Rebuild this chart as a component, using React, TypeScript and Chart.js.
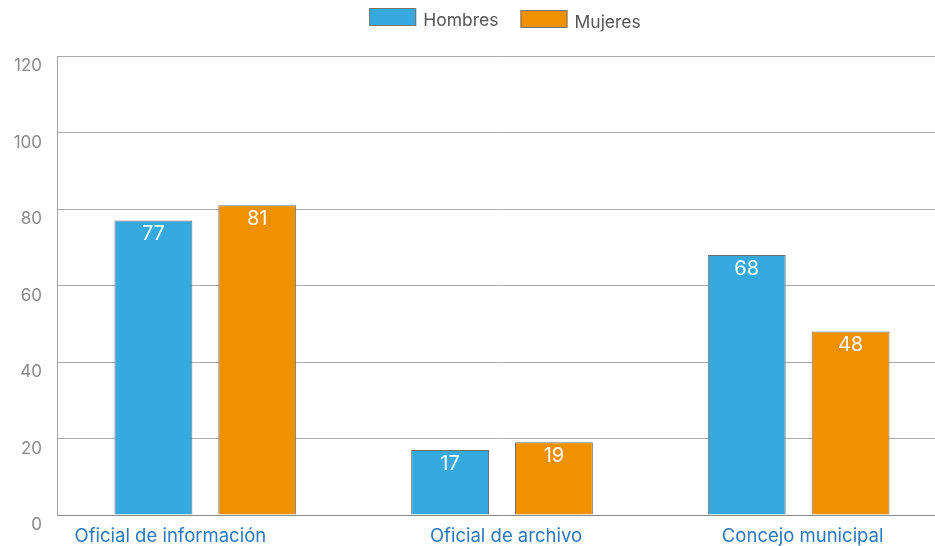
import React, { useEffect, useRef } from "react";
import { Chart, registerables } from "chart.js";

Chart.register(...registerables);

const categories = ["Oficial de información", "Oficial de archivo", "Concejo municipal"];
const seriesNames = ["Hombres", "Mujeres"];
const hombres = [77, 17, 68];
const mujeres = [81, 19, 48];
const seriesColors = ["#36a9e1", "#f29100"];
const yTicks = [0, 20, 40, 60, 80, 100, 120];

const FONT = "Inter, 'Open Sans', sans-serif";

const legendPlugin = {
  id: "customLegend",
  afterDraw(chart: any) {
    const ctx = chart.ctx;
    const area = chart.chartArea;
    const boxW = 47;
    const boxH = 18;
    const textGap = 7;
    const itemGap = 22;
    ctx.save();
    ctx.font = `17.5px ${FONT}`;
    const items = chart.data.datasets.map((d: any) => ({
      label: d.label,
      color: d.backgroundColor,
      tw: ctx.measureText(d.label).width,
    }));
    const total =
      items.reduce((s: number, it: any) => s + boxW + textGap + it.tw, 0) +
      itemGap * (items.length - 1);
    let x = (area.left + area.right) / 2 - total / 2 + 3;
    items.forEach((it: any, i: number) => {
      const yOff = i === 1 ? 2 : 0;
      ctx.fillStyle = it.color;
      ctx.fillRect(x, 8 + yOff, boxW, boxH);
      ctx.strokeStyle = "#767676";
      ctx.lineWidth = 1;
      ctx.strokeRect(x + 0.5, 8.5 + yOff, boxW - 1, boxH - 1);
      ctx.fillStyle = "#555555";
      ctx.textAlign = "left";
      ctx.textBaseline = "alphabetic";
      ctx.fillText(it.label, x + boxW + textGap, 26 + yOff);
      x += boxW + textGap + it.tw + itemGap;
    });
    ctx.restore();
  },
};

const valueLabelPlugin = {
  id: "valueLabels",
  afterDatasetsDraw(chart: any) {
    const ctx = chart.ctx;
    ctx.save();
    ctx.font = `20px ${FONT}`;
    ctx.fillStyle = "#ffffff";
    ctx.textAlign = "center";
    ctx.textBaseline = "alphabetic";
    chart.data.datasets.forEach((ds: any, di: number) => {
      const meta = chart.getDatasetMeta(di);
      meta.data.forEach((el: any, i: number) => {
        ctx.fillText(String(ds.data[i]), el.x, el.y + 20);
      });
    });
    ctx.restore();
  },
};

// Category labels drawn under the x axis (the first one sits further left, as in the source)
const xLabelPlugin = {
  id: "xLabels",
  afterDraw(chart: any) {
    const ctx = chart.ctx;
    const xs = chart.scales.x;
    ctx.save();
    ctx.font = `18.5px ${FONT}`;
    ctx.fillStyle = "#2b78c2";
    ctx.textAlign = "center";
    ctx.textBaseline = "middle";
    const labels = chart.data.labels as string[];
    labels.forEach((lab, i) => {
      const shift = i === 0 ? -35 : 4;
      ctx.fillText(lab, xs.getPixelForTick(i) + shift, xs.top + 21);
    });
    ctx.restore();
  },
};

export default function App() {
  const ref = useRef<HTMLCanvasElement | null>(null);

  useEffect(() => {
    if (!ref.current) return;
    const chart = new Chart(ref.current, {
      type: "bar",
      data: {
        labels: categories,
        datasets: [
          {
            label: seriesNames[0],
            data: hombres,
            backgroundColor: seriesColors[0],
            borderColor: "#6e6e6e",
            borderWidth: 1,
            categoryPercentage: 0.7,
            barPercentage: 0.75,
          },
          {
            label: seriesNames[1],
            data: mujeres,
            backgroundColor: seriesColors[1],
            borderColor: "#6e6e6e",
            borderWidth: 1,
            categoryPercentage: 0.7,
            barPercentage: 0.75,
          },
        ],
      },
      options: {
        animation: false,
        responsive: true,
        maintainAspectRatio: false,
        layout: { padding: { top: 56, right: 3, left: 0, bottom: 0 } },
        plugins: {
          legend: { display: false },
          tooltip: { enabled: false },
        },
        scales: {
          x: {
            grid: { display: false, drawTicks: false },
            border: { display: true, color: "#8a8a8a", width: 1 },
            ticks: { display: false },
            afterFit: (s: any) => {
              s.height = 31;
            },
          },
          y: {
            min: 0,
            max: 120,
            afterBuildTicks: (s: any) => {
              s.ticks = yTicks.map((v) => ({ value: v }));
            },
            grid: { color: "#aaaaaa", lineWidth: 1, drawTicks: false },
            border: { display: true, color: "#a0a0a0", width: 1 },
            ticks: {
              color: "#8a8a8a",
              font: { family: FONT, size: 17 },
              padding: 15,
              labelOffset: 10,
            },
            afterFit: (s: any) => {
              s.width = 57;
            },
          },
        },
      },
      plugins: [legendPlugin, valueLabelPlugin, xLabelPlugin],
    });
    return () => chart.destroy();
  }, []);

  return (
    <div
      style={{
        position: "fixed",
        left: 0,
        top: 0,
        width: 935,
        height: 546,
        overflow: "hidden",
        background: "#ffffff",
      }}
    >
      <div style={{ position: "relative", width: 950, height: 546 }}>
        <canvas ref={ref} />
      </div>
    </div>
  );
}
